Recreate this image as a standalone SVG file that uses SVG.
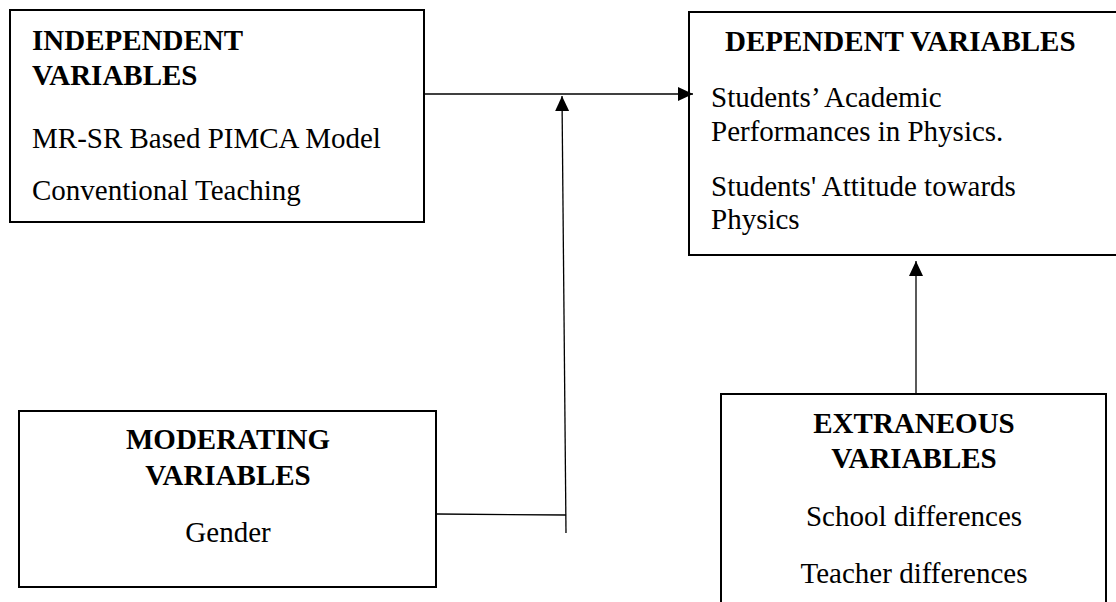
<svg xmlns="http://www.w3.org/2000/svg" width="1116" height="602" viewBox="0 0 1116 602">
<style>
.box{fill:#fff;stroke:#000;stroke-width:2}
.t{font-family:"Liberation Serif","Times New Roman",serif;font-size:29px;fill:#000}
.b{font-weight:bold}
.m{text-anchor:middle}
.c{stroke:#000;stroke-width:1.3;fill:none}
</style>
<defs>
<marker id="ah" markerUnits="userSpaceOnUse" markerWidth="16" markerHeight="16" viewBox="0 0 16 16" refX="15" refY="8" orient="auto">
<path d="M0,1 L15,8 L0,15 Z" fill="#000"/>
</marker>
</defs>
<rect width="1116" height="602" fill="#fff"/>
<g id="independent">
<rect class="box" x="10" y="10" width="414" height="212"/>
<text class="t b" x="32" y="50">INDEPENDENT</text>
<text class="t b" x="32" y="85">VARIABLES</text>
<text class="t" x="32" y="148">MR-SR Based PIMCA Model</text>
<text class="t" x="32" y="200">Conventional Teaching</text>
</g>
<g id="dependent">
<rect class="box" x="689" y="12" width="440" height="243"/>
<text class="t b" x="725" y="51">DEPENDENT VARIABLES</text>
<text class="t" x="711" y="107">Students’ Academic</text>
<text class="t" x="711" y="141">Performances in Physics.</text>
<text class="t" x="711" y="196">Students' Attitude towards</text>
<text class="t" x="711" y="229">Physics</text>
</g>
<g id="moderating">
<rect class="box" x="19" y="411" width="417" height="176"/>
<text class="t b m" x="228" y="449">MODERATING</text>
<text class="t b m" x="228" y="485">VARIABLES</text>
<text class="t m" x="228" y="542">Gender</text>
</g>
<g id="extraneous">
<rect class="box" x="721" y="394" width="385" height="230"/>
<text class="t b m" x="914" y="433">EXTRANEOUS</text>
<text class="t b m" x="914" y="468">VARIABLES</text>
<text class="t m" x="914" y="526">School differences</text>
<text class="t m" x="914" y="583">Teacher differences</text>
</g>
<g id="connectors">
<line class="c" x1="425" y1="94" x2="693" y2="94" marker-end="url(#ah)"/>
<line class="c" x1="437" y1="514" x2="566" y2="515"/>
<line class="c" x1="566" y1="533" x2="562" y2="96" marker-end="url(#ah)"/>
<line class="c" x1="916" y1="393" x2="916" y2="261" marker-end="url(#ah)"/>
</g>
</svg>
